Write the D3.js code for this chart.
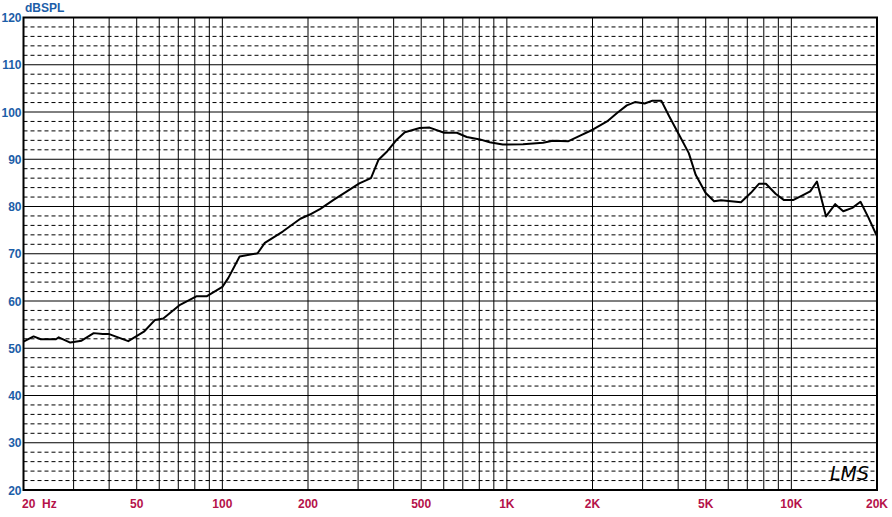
<!DOCTYPE html>
<html><head><meta charset="utf-8">
<script src="https://cdn.jsdelivr.net/npm/d3@7/dist/d3.min.js"></script>
<style>body{margin:0;background:#fff}svg{display:block}</style>
</head><body>
<script>
// Frequency response data (Hz, dBSPL)
const freqs = [20,21.7,23,26,26.6,29.2,32,35.3,38,40,46.7,53,58,62,71,81,88,100,105,115,133,141,163,188,203,221,246,274,303,333,354,380,411,438,494,535,602,667,723,804,870,967,1140,1340,1450,1640,1810,2010,2250,2440,2640,2820,3050,3250,3490,3720,4030,4360,4610,4990,5350,5660,6140,6650,7210,7690,8140,8800,9400,10180,10900,11650,12300,13240,14260,15220,16380,17500,18680,20000];
const spl   = [51.4,52.5,51.9,51.9,52.3,51.2,51.6,53.2,53.0,53.0,51.5,53.5,56.0,56.3,59.2,61.0,61.0,63.0,64.9,69.4,70.1,72.3,74.7,77.4,78.3,79.5,81.4,83.2,84.9,86.0,89.9,91.7,94.2,95.7,96.6,96.7,95.6,95.6,94.7,94.2,93.6,93.1,93.2,93.5,93.9,93.8,95.0,96.3,98.0,99.8,101.4,102.1,101.8,102.4,102.4,99.1,95.2,91.3,86.7,82.9,81.1,81.3,81.1,80.9,82.9,84.8,84.8,82.7,81.4,81.4,82.3,83.2,85.3,77.9,80.5,79.0,79.7,81.0,77.6,73.7];

const yTicks = [20,30,40,50,60,70,80,90,100,110,120];
const xTickVals = [20,50,100,200,500,1000,2000,5000,10000,20000];
const xTickLabels = ["20  Hz","50","100","200","500","1K","2K","5K","10K","20K"];
const yTitle = "dBSPL";

const W = 892, H = 517;
const L = 23.5, R = 877, T = 17.5, B = 490;

const svg = d3.select("body").append("svg").attr("width", W).attr("height", H);
const x = d3.scaleLog().domain([20, 20000]).range([L, R]);
const y = d3.scaleLinear().domain([20, 120]).range([B, T]);

// vertical grid lines (1-2-...-9 per decade)
const vset = [];
[10, 100, 1000, 10000].forEach(d => { for (let k = 1; k <= 9; k++) { const f = d * k; if (f > 20 && f < 20000) vset.push(f); } });
svg.append("g").selectAll("line").data(vset).join("line")
  .attr("x1", d => x(d)).attr("x2", d => x(d)).attr("y1", T).attr("y2", B)
  .attr("stroke", "#000").attr("stroke-width", 1);

// dashed minor horizontal lines
const minor = d3.range(22, 120, 2).filter(v => v % 10 !== 0);
svg.append("g").selectAll("line").data(minor).join("line")
  .attr("x1", L).attr("x2", R).attr("y1", d => y(d)).attr("y2", d => y(d))
  .attr("stroke", "#000").attr("stroke-width", 1).attr("stroke-dasharray", "4,3");

// solid major horizontal lines
svg.append("g").selectAll("line").data(yTicks.slice(1, -1)).join("line")
  .attr("x1", L).attr("x2", R).attr("y1", d => y(d)).attr("y2", d => y(d))
  .attr("stroke", "#000").attr("stroke-width", 1);

// frame
svg.append("rect").attr("x", L).attr("y", T).attr("width", R - L).attr("height", B - T)
  .attr("fill", "none").attr("stroke", "#000").attr("stroke-width", 2);

// curve
const line = d3.line().x((d, i) => x(freqs[i])).y(d => y(d));
svg.append("path").datum(spl).attr("d", line)
  .attr("fill", "none").attr("stroke", "#000").attr("stroke-width", 2).attr("stroke-linejoin", "round");

const FONT = "Liberation Sans, Arial, sans-serif";
// y labels
svg.append("g").selectAll("text").data(yTicks).join("text")
  .attr("x", 21.5).attr("y", d => y(d) + 4.5).attr("text-anchor", "end")
  .attr("font-family", FONT).attr("font-weight", "bold").attr("font-size", 12)
  .attr("fill", "#1c5ea8").text(d => d);
svg.append("text").attr("x", 25).attr("y", 12)
  .attr("font-family", FONT).attr("font-weight", "bold").attr("font-size", 12)
  .attr("fill", "#1c5ea8").text(yTitle);

// x labels
svg.append("g").selectAll("text").data(xTickVals).join("text")
  .attr("x", (d, i) => i === 0 ? 22 : (i === xTickVals.length - 1 ? 888 : x(d)))
  .attr("y", 508)
  .attr("text-anchor", (d, i) => i === 0 ? "start" : (i === xTickVals.length - 1 ? "end" : "middle"))
  .attr("font-family", FONT).attr("font-weight", "bold").attr("font-size", 12)
  .attr("fill", "#b5124a").attr("xml:space", "preserve").style("white-space", "pre")
  .text((d, i) => xTickLabels[i]);

// LMS logo
svg.append("text").attr("x", 830).attr("y", 480)
  .attr("font-family", "DejaVu Sans, sans-serif").attr("font-style", "italic").attr("font-size", 19)
  .attr("fill", "#000").text("LMS");
</script>
</body></html>
